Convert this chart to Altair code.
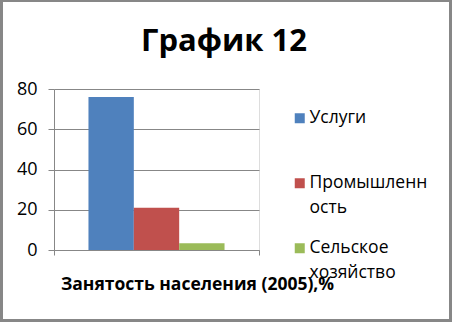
import altair as alt
import pandas as pd

# ---- data ----
categories = ["Услуги", "Промышленность", "Сельское хозяйство"]
values = [76, 21, 3.3]
group_label = ["Занятость населения (2005),%"]
colors = ["#4F81BD", "#C0504D", "#9BBB59"]
y_ticks = [0, 20, 40, 60, 80]

df = pd.DataFrame({
    "grp": group_label * len(categories),
    "cat": categories,
    "val": values,
})

FONT = "Open Sans"
GRAY = "#878787"

bars = alt.Chart(df).mark_bar().encode(
    x=alt.X("grp:N",
            scale=alt.Scale(paddingInner=0, paddingOuter=0),
            axis=alt.Axis(labels=False, tickBand="extent", tickSize=5,
                          tickColor=GRAY, domainColor=GRAY,
                          title=group_label[0],
                          titleX=143, titleY=39, titleAlign="center",
                          titleBaseline="alphabetic",
                          titleFont=FONT, titleFontSize=17.5, titleFontWeight="bold",
                          titleColor="black")),
    xOffset=alt.XOffset("cat:N", sort=categories,
                        scale=alt.Scale(paddingInner=0, paddingOuter=0.76)),
    y=alt.Y("val:Q",
            scale=alt.Scale(domain=[0, 80], nice=False),
            axis=alt.Axis(values=y_ticks, title=None, tickSize=6,
                          tickColor=GRAY, domainColor=GRAY, gridColor=GRAY,
                          gridOpacity=1, labelFont=FONT, labelFontSize=18,
                          labelColor="black", labelPadding=11)),
    color=alt.Color("cat:N", sort=categories,
                    scale=alt.Scale(domain=categories, range=colors),
                    legend=alt.Legend(
                        title=None, orient="none", legendX=237, legendY=20.5,
                        padding=0, symbolType="square", symbolSize=100,
                        symbolStrokeWidth=0, labelOffset=1, rowPadding=21,
                        labelFont=FONT, labelFontSize=17.5, labelColor="black",
                        labelBaseline="middle", labelLimit=200,
                        labelExpr="datum.label == 'Промышленность' ? ['Промышленн', 'ость'] : (datum.label == 'Услуги' ? ['Услуги', ' '] : split(datum.label, ' '))",
                    )),
)

frame = alt.Chart(pd.DataFrame({"k": [0]})).mark_rect(
    fill=None, stroke=GRAY, strokeWidth=3
).encode(
    x=alt.value(-52.5), x2=alt.value(452 - 54 - 1.5),
    y=alt.value(-88.5), y2=alt.value(322 - 89 - 1.5),
)

chart = alt.layer(bars, frame).properties(
    width=205, height=161,
    autosize=alt.AutoSizeParams(type="none"),
    padding={"left": 54, "top": 89, "right": 193, "bottom": 72},
    title=alt.TitleParams("График 12", font=FONT, fontSize=31, fontWeight="bold",
                          color="black", anchor="middle", frame="group",
                          dx=67.5, baseline="alphabetic", offset=-83),
).configure_view(stroke=None).configure(
    background="white",
    style={"guide-label": {"lineHeight": 25}},
)

chart.save("out.html", embed_options={"renderer": "svg", "actions": False})
